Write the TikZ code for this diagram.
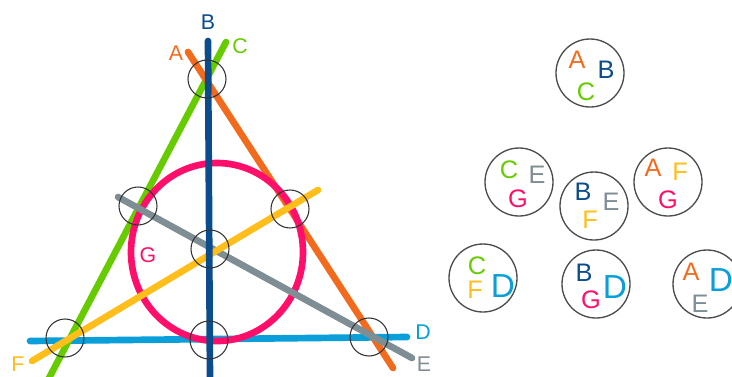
\documentclass[tikz,border=0pt]{standalone}
\usepackage{fontspec}
\setmainfont{Liberation Sans}
\usetikzlibrary{positioning}
\definecolor{cA}{HTML}{F26B1D}
\definecolor{cB}{HTML}{0B4C8C}
\definecolor{cC}{HTML}{66CC00}
\definecolor{cD}{HTML}{0A9FD8}
\definecolor{cE}{HTML}{7F8E95}
\definecolor{cF}{HTML}{FFBE1A}
\definecolor{cG}{HTML}{FF0F6A}

\begin{document}
\begin{tikzpicture}[x=0.75pt,y=-0.75pt,
    fanoline/.style={line width=5pt,line cap=round},
    meet/.style={draw=black!80,circle,minimum size=28.5pt,inner sep=0pt,line width=0.8pt},
    triple/.style={draw=black!70,circle,minimum size=51pt,inner sep=0pt,line width=1pt},
    tag/.style={inner sep=0pt,font=\fontsize{16}{16}\selectfont},
    pick/.style={inner sep=0pt,font=\fontsize{19}{19}\selectfont},
    bigpick/.style={inner sep=0pt,font=\fontsize{25}{25}\selectfont}]
  \useasboundingbox (0,0) rectangle (732,376);
  \clip (0,0) rectangle (732,376);

  % end points of the seven lines
  \coordinate (a1) at (188,52);  \coordinate (a2) at (393,368);
  \coordinate (b1) at (208,41);  \coordinate (b2) at (210,380);
  \coordinate (c1) at (226,42);  \coordinate (c2) at (48,380);
  \coordinate (d1) at (30,341);  \coordinate (d2) at (407,337);
  \coordinate (e1) at (118,197); \coordinate (e2) at (412,358);
  \coordinate (f1) at (32,361);  \coordinate (f2) at (318,190);
  \coordinate (g0) at (217,252);

  \draw[fanoline,cD] (d1) -- (d2);
  \draw[fanoline,cC] (c1) -- (c2);
  \draw[fanoline,cA] (a1) -- (a2);
  \draw[fanoline,cG] (g0) ellipse [x radius=86,y radius=89];
  \draw[fanoline,cE] (e1) -- (e2);
  \draw[fanoline,cF] (f1) -- (f2);
  \draw[fanoline,cB] (b1) -- (b2);

  % the seven points
  \node[meet] (pABC) at (207,79) {};
  \node[meet] (pCEG) at (138,206) {};
  \node[meet] (pAFG) at (290,209) {};
  \node[meet] (pBEF) at (210,249) {};
  \node[meet] (pCFD) at (65,338) {};
  \node[meet] (pBGD) at (209,340) {};
  \node[meet] (pAED) at (369,337) {};

  % line names
  \node[tag,cA] (lA) at (176,53) {A};
  \node[tag,cB] (lB) at (208,22) {B};
  \node[tag,cC] (lC) at (240,46) {C};
  \node[tag,cD] (lD) at (423,332) {D};
  \node[tag,cE] (lE) at (424,364) {E};
  \node[tag,cF] (lF) at (18,364) {F};
  \node[tag,cG] (lG) at (148,255) {G};

  % the points as sets of lines
  \node[triple] (sABC) at (590,73) {};
  \node[pick,cA] at (577,60) {A};
  \node[pick,cB] at (606,70) {B};
  \node[pick,cC] at (586,92) {C};

  \node[triple] (sCEG) at (519,182) {};
  \node[pick,cC] at (509,170) {C};
  \node[pick,cE] at (537,175) {E};
  \node[pick,cG] at (518,199) {G};

  \node[triple] (sAFG) at (668,182) {};
  \node[pick,cA] at (653,168) {A};
  \node[pick,cF] at (680,172) {F};
  \node[pick,cG] at (668,200) {G};

  \node[triple] (sBEF) at (594,206) {};
  \node[pick,cB] at (583,192) {B};
  \node[pick,cE] at (611,202) {E};
  \node[pick,cF] at (590,220) {F};

  \node[triple] (sCFD) at (483,278) {};
  \node[pick,cC] at (477,266) {C};
  \node[pick,cF] at (475,290) {F};
  \node[bigpick,cD] at (503,286) {D};

  \node[triple] (sBGD) at (596,284) {};
  \node[pick,cB] at (584,273) {B};
  \node[pick,cG] at (591,300) {G};
  \node[bigpick,cD] at (615,287) {D};

  \node[triple] (sAED) at (707,284) {};
  \node[pick,cA] at (691,272) {A};
  \node[bigpick,cD] at (721,280) {D};
  \node[pick,cE] at (700,304) {E};
\end{tikzpicture}
\end{document}
